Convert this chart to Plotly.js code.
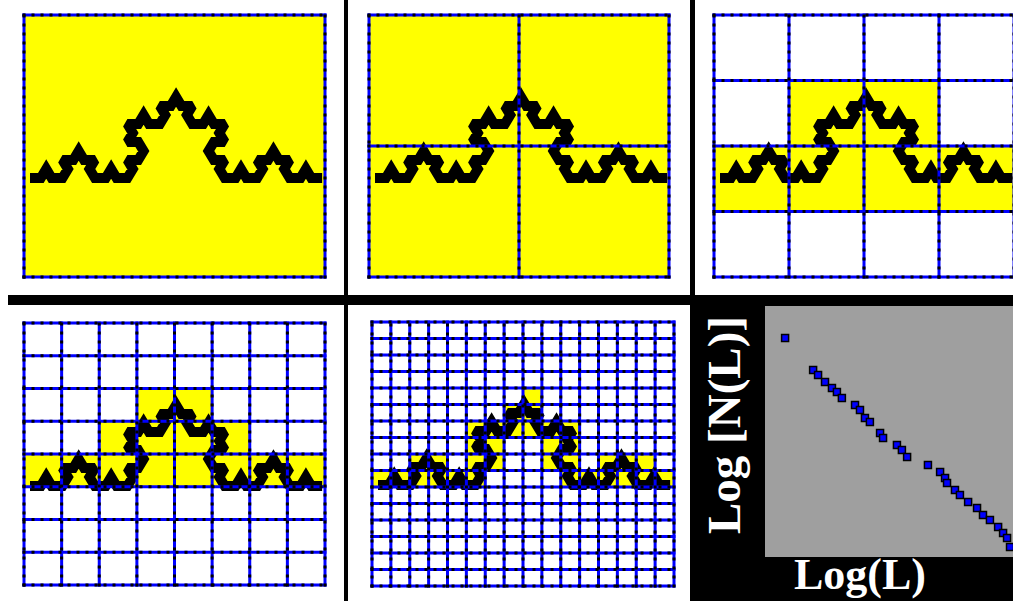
<!DOCTYPE html>
<html><head><meta charset="utf-8">
<script src="https://cdn.plot.ly/plotly-3.0.1.min.js"></script>
<style>html,body{margin:0;padding:0;background:#fff;overflow:hidden}</style>
</head><body><div id="chart" style="width:1013px;height:601px"></div>
<script>
// Koch curve (3rd iteration) vertices on a triangular lattice:
// x in half-segment units, y in rows of height sqrt(3)/2 segment
const kochX = [0, 2,3,4,6, 7,6,8,9, 10,12,11,12, 14,15,16,18, 19,18,20,21, 20,18,19,18, 20,21,22,24, 25,24,26,27, 28,30,29,30, 32,33,34,36, 35,36,34,33, 34,36,35,36, 38,39,40,42, 43,42,44,45, 46,48,47,48, 50,51,52,54];
const kochY = [0, 0,1,0,0, 1,2,2,3, 2,2,1,0, 0,1,0,0, 1,2,2,3, 4,4,5,6, 6,7,6,6, 7,8,8,9, 8,8,7,6, 6,7,6,6, 5,4,4,3, 2,2,1,0, 0,1,0,0, 1,2,2,3, 2,2,1,0, 0,1,0,0];

// boxes per side in each panel
const gridSizes = [1, 2, 4, 8, 16];

// Log-log plot of box counts (arbitrary units)
const logL = [8.1,19.4,21.4,24.2,27.0,29.0,31.0,36.3,38.3,40.3,42.3,46.4,47.6,53.2,55.2,57.3,65.7,70.6,72.6,73.4,76.6,78.6,81.9,85.5,87.9,90.7,94.0,96.0,97.6,98.8];
const logN = [87.3,74.5,72.5,69.7,67.3,65.7,63.3,60.6,58.6,55.4,53.8,49.4,47.4,44.6,42.6,39.8,36.7,33.9,31.5,29.5,26.7,24.7,21.9,19.5,16.7,14.7,12.0,9.6,7.6,4.0];

const yLabel = 'Log [N(L)]';
const xLabel = 'Log(L)';

// ---- layout geometry (pixels) ----
const W = 1013, H = 601, PAD = 3;
const boxes = [
  {L:24,  T:15,  R:325,  B:277},
  {L:369, T:15,  R:669,  B:277},
  {L:714, T:15,  R:1014, B:277},
  {L:24,  T:323, R:325,  B:585},
  {L:372, T:322, R:674,  B:586}
];
const DX = 6, DY = 163, SX = 5.41, SY = 9.0;

const traces = [];
const layout = {
  width: W, height: H,
  margin: {l:0, r:0, t:0, b:0},
  paper_bgcolor: '#ffffff',
  plot_bgcolor: 'rgba(0,0,0,0)',
  showlegend: false,
  shapes: [], annotations: []
};

function boxCount(n, xL, xR, yB, yT) {
  const z = Array.from({length:n}, () => new Array(n).fill(0));
  for (let i = 0; i < kochX.length - 1; i++) {
    for (let t = 0; t <= 40; t++) {
      const x = kochX[i] + (kochX[i+1] - kochX[i]) * t / 40;
      const y = kochY[i] + (kochY[i+1] - kochY[i]) * t / 40;
      const c = Math.min(n-1, Math.max(0, Math.floor((x - xL) / (xR - xL) * n)));
      const r = Math.min(n-1, Math.max(0, Math.floor((y - yB) / (yT - yB) * n)));
      z[r][c] = 1;
    }
  }
  return z;
}

boxes.forEach((b, i) => {
  const n = gridSizes[i];
  const ax = i + 1;
  const xa = 'xaxis' + (ax === 1 ? '' : ax), ya = 'yaxis' + (ax === 1 ? '' : ax);
  const xr = 'x' + (ax === 1 ? '' : ax), yr = 'y' + (ax === 1 ? '' : ax);
  const dL = b.L - PAD, dR = Math.min(W, b.R + PAD);
  const x0 = b.L + DX, y0 = b.T + DY;
  layout[xa] = {domain:[dL / W, dR / W], range:[(dL - x0) / SX, (dR - x0) / SX],
    visible:false, fixedrange:true, anchor: yr};
  layout[ya] = {domain:[1 - (b.B + PAD) / H, 1 - (b.T - PAD) / H],
    range:[(y0 - (b.B + PAD)) / SY, (y0 - (b.T - PAD)) / SY],
    visible:false, fixedrange:true, anchor: xr};
  const xL = -DX / SX, xR = (b.R - b.L - DX) / SX;
  const yT = DY / SY, yB = (DY - (b.B - b.T)) / SY;
  const xe = [], ye = [];
  for (let k = 0; k <= n; k++) { xe.push(xL + (xR - xL) * k / n); ye.push(yB + (yT - yB) * k / n); }
  traces.push({type:'heatmap', x:xe, y:ye, z:boxCount(n, xL, xR, yB, yT),
    colorscale:[[0,'#ffffff'],[1,'#ffff00']], zmin:0, zmax:1, showscale:false,
    hoverinfo:'skip', xaxis:xr, yaxis:yr});
  traces.push({type:'scatter', mode:'lines', x:kochX, y:kochY,
    line:{color:'#000000', width:10}, hoverinfo:'skip', xaxis:xr, yaxis:yr});
  const gx = [], gy = [];
  const ex = 1.5 / SX, ey = 1.5 / SY;
  xe.forEach(x => { gx.push(x, x, null); gy.push(yB - ey, yT + ey, null); });
  ye.forEach(y => { gx.push(xL - ex, xR + ex, null); gy.push(y, y, null); });
  traces.push({type:'scatter', mode:'lines', x:gx, y:gy, connectgaps:false,
    line:{color:'#0000ff', width:3}, hoverinfo:'skip', xaxis:xr, yaxis:yr});
  traces.push({type:'scatter', mode:'lines', x:gx, y:gy, connectgaps:false,
    line:{color:'#000000', width:3, dash:'3px,6px'}, hoverinfo:'skip', xaxis:xr, yaxis:yr});
});

// Panel 6: log-log plot
layout.xaxis6 = {domain:[765 / W, 1], range:[0, 100], visible:false, fixedrange:true, anchor:'y6'};
layout.yaxis6 = {domain:[1 - 557 / H, 1 - 306 / H], range:[0, 100], visible:false, fixedrange:true, anchor:'x6'};
traces.push({type:'scatter', mode:'markers', x:logL, y:logN, xaxis:'x6', yaxis:'y6',
  marker:{symbol:'square', size:7, color:'#0000ff', line:{color:'#000000', width:1.5}},
  hoverinfo:'skip'});

layout.shapes = [
  {type:'rect', xref:'paper', yref:'paper', x0:695 / W, x1:1, y0:0, y1:1 - 300 / H,
    fillcolor:'#000000', line:{width:0}, layer:'below'},
  {type:'rect', xref:'paper', yref:'paper', x0:765 / W, x1:1, y0:1 - 557 / H, y1:1 - 306 / H,
    fillcolor:'#9f9f9f', line:{width:0}, layer:'below'},
  {type:'rect', xref:'paper', yref:'paper', x0:8 / W, x1:1, y0:1 - 305 / H, y1:1 - 295 / H,
    fillcolor:'#000000', line:{width:0}, layer:'below'},
  {type:'rect', xref:'paper', yref:'paper', x0:344 / W, x1:348 / W, y0:0, y1:1,
    fillcolor:'#000000', line:{width:0}, layer:'below'},
  {type:'rect', xref:'paper', yref:'paper', x0:690 / W, x1:695 / W, y0:0, y1:1,
    fillcolor:'#000000', line:{width:0}, layer:'below'}
];

layout.annotations = [
  {text:'<b>' + yLabel + '</b>', xref:'paper', yref:'paper', x:724 / W, y:1 - 425 / H,
    textangle:-90, showarrow:false, xanchor:'center', yanchor:'middle',
    font:{family:'Liberation Serif', size:47, color:'#ffffff'}},
  {text:'<b>' + xLabel + '</b>', xref:'paper', yref:'paper', x:860 / W, y:1 - 574 / H,
    showarrow:false, xanchor:'center', yanchor:'middle',
    font:{family:'Liberation Serif', size:44, color:'#ffffff'}}
];

Plotly.newPlot('chart', traces, layout, {displayModeBar:false, staticPlot:true});
</script>
</body></html>
